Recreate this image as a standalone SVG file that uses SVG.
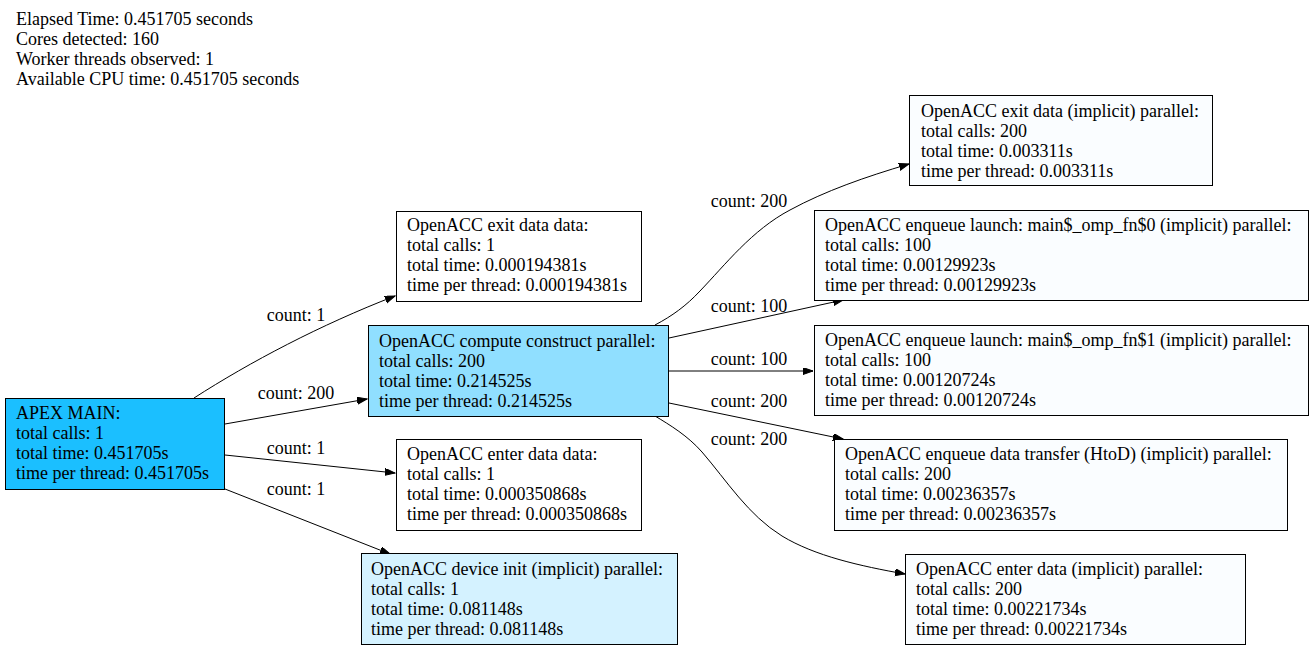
<svg xmlns="http://www.w3.org/2000/svg" width="1315" height="651" viewBox="0 0 1315 651">
<style>
text{font-family:"Liberation Serif","Times New Roman",serif;font-size:18px;fill:#000}
.box{stroke:#000;stroke-width:1}
.edge{fill:none;stroke:#000;stroke-width:1}
.w{fill:#ffffff}
.lw{fill:#fafdff}
</style>
<defs>
<marker id="arr" markerUnits="userSpaceOnUse" markerWidth="11" markerHeight="8" refX="10" refY="3.5" orient="auto">
<path d="M0,0 L10,3.5 L0,7 z" fill="#000" stroke="#000" stroke-width="1"/>
</marker>
</defs>
<rect width="1315" height="651" fill="#fff"/>
<g id="header">
<text x="16" y="25">Elapsed Time: 0.451705 seconds</text>
<text x="16" y="45">Cores detected: 160</text>
<text x="16" y="65">Worker threads observed: 1</text>
<text x="16" y="85">Available CPU time: 0.451705 seconds</text>
</g>
<g id="connectors">
<path class="edge" marker-end="url(#arr)" d="M194,398 C250,362 320,325 395,296"/>
<path class="edge" marker-end="url(#arr)" d="M225,424 L367,399"/>
<path class="edge" marker-end="url(#arr)" d="M225,455 L395,473"/>
<path class="edge" marker-end="url(#arr)" d="M225,489 L390,554"/>
<path class="edge" marker-end="url(#arr)" d="M655,325 C672,316 686,306 700,291 C725,265 752,230 790,210 C825,191 865,177 909,164"/>
<path class="edge" marker-end="url(#arr)" d="M669,338 L843,300"/>
<path class="edge" marker-end="url(#arr)" d="M669,371 L813,371"/>
<path class="edge" marker-end="url(#arr)" d="M669,403 L843,439"/>
<path class="edge" marker-end="url(#arr)" d="M655,416 C670,425 688,436 702,452 C727,481 748,515 782,536 C815,556 860,566 905,574"/>
<text x="296" y="321" text-anchor="middle">count: 1</text>
<text x="296" y="399" text-anchor="middle">count: 200</text>
<text x="296" y="454" text-anchor="middle">count: 1</text>
<text x="296" y="495" text-anchor="middle">count: 1</text>
<text x="749" y="207" text-anchor="middle">count: 200</text>
<text x="749" y="312" text-anchor="middle">count: 100</text>
<text x="749" y="365" text-anchor="middle">count: 100</text>
<text x="749" y="407" text-anchor="middle">count: 200</text>
<text x="749" y="445" text-anchor="middle">count: 200</text>
</g>
<g id="apex_main">
<rect class="box" x="5.5" y="398.5" width="219" height="91" fill="#1bbfff"/>
<text x="16" y="419">APEX MAIN:</text>
<text x="16" y="439">total calls: 1</text>
<text x="16" y="459">total time: 0.451705s</text>
<text x="16" y="479">time per thread: 0.451705s</text>
</g>
<g id="exit_data_data">
<rect class="box w" x="396.5" y="211.5" width="245" height="90"/>
<text x="407" y="231">OpenACC exit data data:</text>
<text x="407" y="251">total calls: 1</text>
<text x="407" y="271">total time: 0.000194381s</text>
<text x="407" y="291">time per thread: 0.000194381s</text>
</g>
<g id="compute_construct">
<rect class="box" x="368.5" y="325.5" width="300" height="91" fill="#90dfff"/>
<text x="379" y="347">OpenACC compute construct parallel:</text>
<text x="379" y="367">total calls: 200</text>
<text x="379" y="387">total time: 0.214525s</text>
<text x="379" y="407">time per thread: 0.214525s</text>
</g>
<g id="enter_data_data">
<rect class="box w" x="396.5" y="439.5" width="245" height="91"/>
<text x="407" y="460">OpenACC enter data data:</text>
<text x="407" y="480">total calls: 1</text>
<text x="407" y="500">total time: 0.000350868s</text>
<text x="407" y="520">time per thread: 0.000350868s</text>
</g>
<g id="device_init">
<rect class="box" x="361.5" y="553.5" width="316" height="91" fill="#d4f2ff"/>
<text x="371" y="575">OpenACC device init (implicit) parallel:</text>
<text x="371" y="595">total calls: 1</text>
<text x="371" y="615">total time: 0.081148s</text>
<text x="371" y="635">time per thread: 0.081148s</text>
</g>
<g id="exit_data_implicit">
<rect class="box lw" x="909.5" y="95.5" width="303" height="90"/>
<text x="921" y="117">OpenACC exit data (implicit) parallel:</text>
<text x="921" y="137">total calls: 200</text>
<text x="921" y="157">total time: 0.003311s</text>
<text x="921" y="177">time per thread: 0.003311s</text>
</g>
<g id="enqueue_launch_0">
<rect class="box lw" x="814.5" y="210.5" width="494" height="90"/>
<text x="825" y="231">OpenACC enqueue launch: main$_omp_fn$0 (implicit) parallel:</text>
<text x="825" y="251">total calls: 100</text>
<text x="825" y="271">total time: 0.00129923s</text>
<text x="825" y="291">time per thread: 0.00129923s</text>
</g>
<g id="enqueue_launch_1">
<rect class="box lw" x="814.5" y="325.5" width="494" height="90"/>
<text x="825" y="346">OpenACC enqueue launch: main$_omp_fn$1 (implicit) parallel:</text>
<text x="825" y="366">total calls: 100</text>
<text x="825" y="386">total time: 0.00120724s</text>
<text x="825" y="406">time per thread: 0.00120724s</text>
</g>
<g id="enqueue_data_transfer">
<rect class="box lw" x="834.5" y="439.5" width="453" height="91"/>
<text x="845" y="460">OpenACC enqueue data transfer (HtoD) (implicit) parallel:</text>
<text x="845" y="480">total calls: 200</text>
<text x="845" y="500">total time: 0.00236357s</text>
<text x="845" y="520">time per thread: 0.00236357s</text>
</g>
<g id="enter_data_implicit">
<rect class="box lw" x="905.5" y="554.5" width="340" height="90"/>
<text x="916" y="575">OpenACC enter data (implicit) parallel:</text>
<text x="916" y="595">total calls: 200</text>
<text x="916" y="615">total time: 0.00221734s</text>
<text x="916" y="635">time per thread: 0.00221734s</text>
</g>
</svg>
